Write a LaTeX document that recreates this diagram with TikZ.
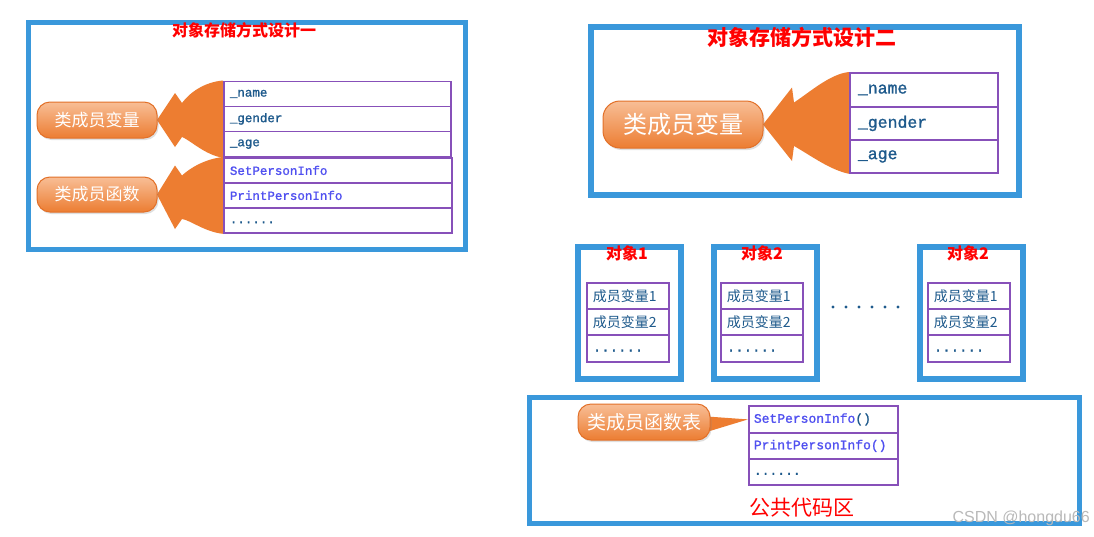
\documentclass[tikz,border=0pt]{standalone}
\usepackage{fontspec}
\setmainfont{Liberation Serif}
\newfontfamily\cjk{Noto Sans CJK SC}
\newfontfamily\mono[FakeBold=1.2]{Liberation Mono}
\newfontfamily\wm{Liberation Sans}
\usetikzlibrary{shadows,calc,backgrounds}
\definecolor{frameblue}{RGB}{58,152,219}
\definecolor{tabpurple}{RGB}{135,80,185}
\definecolor{vartext}{RGB}{30,90,140}
\definecolor{fntext}{RGB}{80,80,240}
\definecolor{arroworange}{RGB}{237,125,49}
\definecolor{pilltop}{RGB}{248,190,150}
\definecolor{pillbot}{RGB}{236,125,50}
\definecolor{pillline}{RGB}{226,112,40}
\tikzset{
  frame/.style={draw=frameblue, line width=5pt, anchor=north west, inner sep=0pt},
  rowbox/.style={draw=tabpurple, line width=1.8pt, anchor=north west, inner ysep=0pt, align=left},
  pill/.style={draw=pillline, line width=1pt, rounded corners=13pt, top color=pilltop, bottom color=pillbot,
    text=white, inner sep=0pt, drop shadow={opacity=0.25, shadow xshift=1.5pt, shadow yshift=-2pt}},
  title/.style={text=red, inner sep=0pt},
  bigarrow/.style={fill=arroworange},
}
\newcommand{\dotrow}{\vphantom{Ag}......}
\begin{document}
\begin{tikzpicture}[x=1pt,y=-1pt]
\useasboundingbox (0,0) rectangle (1094,536);
\begin{pgfonlayer}{background}
\fill[white] (0,0) rectangle (1094,536);
\end{pgfonlayer}

% ---------------- Panel 1 ----------------
\node[frame, minimum width=437pt, minimum height=227pt] (f1) at (26,20) {};
\node[title, font=\cjk\bfseries\fontsize{16}{16}\selectfont] (t1) at (244,30) {对象存储方式设计一};

\tikzset{r1/.style={rowbox, text width=215pt, inner xsep=6pt, minimum height=25pt, font=\mono\fontsize{12.5}{12.5}\selectfont}}
\node[r1, text=vartext] (a1) at (223,80.5) {\_name};
\node[r1, text=vartext] (a2) at (223,105.5) {\_gender};
\node[r1, text=vartext, minimum height=25.5pt] (a3) at (223,130.5) {\_age};
\node[r1, text=fntext, text width=216pt] (b1) at (223,157) {SetPersonInfo};
\node[r1, text=fntext, text width=216pt] (b2) at (223,182) {PrintPersonInfo};
\node[r1, text=vartext, text width=216pt] (b3) at (223,207) {\dotrow};

\coordinate (p1aE) at (157,120);
\coordinate (p1bE) at (157,194.5);
\begin{pgfonlayer}{background}
\fill[bigarrow] (p1aE) -- ++(18,-27) -- ++(7,10) .. controls (190,92) and (205,82) .. (a1.north west)
  -- (a3.south west) .. controls (205,155) and (190,140) .. (182,137) -- ++(-7,10) -- cycle;
\fill[bigarrow] (p1bE) -- ++(18,-29) -- ++(7,10) .. controls (190,168) and (205,159) .. (b1.north west)
  -- (b3.south west) .. controls (205,232) and (190,220) .. (182,219) -- ++(-7,10) -- cycle;
\end{pgfonlayer}

\node[pill, minimum width=120pt, minimum height=36pt, font=\cjk\fontsize{17}{17}\selectfont] (p1a) at (97,120) {类成员变量};
\node[pill, minimum width=120pt, minimum height=35pt, font=\cjk\fontsize{17}{17}\selectfont] (p1b) at (97,194.5) {类成员函数};

% ---------------- Panel 2 ----------------
\node[frame, line width=6pt, minimum width=428pt, minimum height=168pt] (f2) at (588,24) {};
\node[title, font=\cjk\bfseries\fontsize{21}{21}\selectfont] (t2) at (802,37) {对象存储方式设计二};

\tikzset{r2/.style={rowbox, text=vartext, text width=132pt, inner xsep=8pt, minimum height=33pt, font=\mono\fontsize{16.5}{16.5}\selectfont}}
\node[r2, minimum height=34pt] (c1) at (849,72) {\_name};
\node[r2] (c2) at (849,106) {\_gender};
\node[r2] (c3) at (849,139) {\_age};

\coordinate (p2E) at (763,124.5);
\begin{pgfonlayer}{background}
\fill[bigarrow] (p2E) -- ++(29,-37) -- ++(2,15) .. controls (810,92) and (830,74) .. (c1.north west)
  -- (c3.south west) .. controls (830,170) and (810,155) .. (794,146) -- ++(-2,15) -- cycle;
\end{pgfonlayer}
\node[pill, rounded corners=17pt, minimum width=160pt, minimum height=47pt, font=\cjk\fontsize{24}{24}\selectfont] (p2) at (683,124.5) {类成员变量};

% ---------------- Objects ----------------
\tikzset{
  objframe/.style={frame, line width=6pt, minimum width=103pt, minimum height=132pt},
  r3/.style={rowbox, text=vartext, text width=70pt, inner xsep=6pt, minimum height=26pt, font=\cjk\fontsize{14}{14}\selectfont},
  r3dots/.style={r3, minimum height=27pt, font=\mono\fontsize{14}{14}\selectfont},
  objtitle/.style={title, font=\cjk\bfseries\fontsize{16}{16}\selectfont}
}
\node[objframe] (o1) at (575,244) {};
\node[objtitle] (ot1) at (627,253) {对象1};
\node[r3] (o1a) at (586,282) {成员变量1};
\node[r3] (o1b) at (586,308) {成员变量2};
\node[r3dots] (o1c) at (586,334) {\dotrow};

\node[objframe] (o2) at (711,244) {};
\node[objtitle] (ot2) at (762,253) {对象2};
\node[r3] (o2a) at (720,282) {成员变量1};
\node[r3] (o2b) at (720,308) {成员变量2};
\node[r3dots] (o2c) at (720,334) {\dotrow};

\node[objframe] (o3) at (917,244) {};
\node[objtitle] (ot3) at (968,253) {对象2};
\node[r3] (o3a) at (927,282) {成员变量1};
\node[r3] (o3b) at (927,308) {成员变量2};
\node[r3dots] (o3c) at (927,334) {\dotrow};

\foreach \i in {0,...,5} \fill[vartext] (833+\i*13,307) circle (1.6);

% ---------------- Public code area ----------------
\node[frame, minimum width=550pt, minimum height=126pt] (f3) at (527,395) {};
\tikzset{r4/.style={rowbox, text width=139pt, inner xsep=5pt, minimum height=26pt, font=\mono\fontsize{13}{13}\selectfont}}
\node[r4, text=fntext, minimum height=27pt] (d1) at (748,405) {SetPersonInfo\textcolor{vartext}{()}};
\node[r4, text=fntext] (d2) at (748,432) {PrintPersonInfo()};
\node[r4, text=vartext] (d3) at (748,458) {\dotrow};
\node[title, font=\cjk\fontsize{21}{21}\selectfont] (t3) at (802,508) {公共代码区};

\coordinate (p3E) at (710,422);
\begin{pgfonlayer}{background}
\fill[bigarrow] ($(p3E)+(-10,-6)$) -- (d1.west) -- ($(p3E)+(-10,12)$) -- cycle;
\end{pgfonlayer}
\node[pill, minimum width=132pt, minimum height=36pt, font=\cjk\fontsize{19}{19}\selectfont] (p3) at (644,422) {类成员函数表};

\node[anchor=east, inner sep=0pt, text=gray!55, font=\wm\fontsize{16}{16}\selectfont] (wm) at (1090,518) {CSDN @hongdu66};
\end{tikzpicture}
\end{document}
